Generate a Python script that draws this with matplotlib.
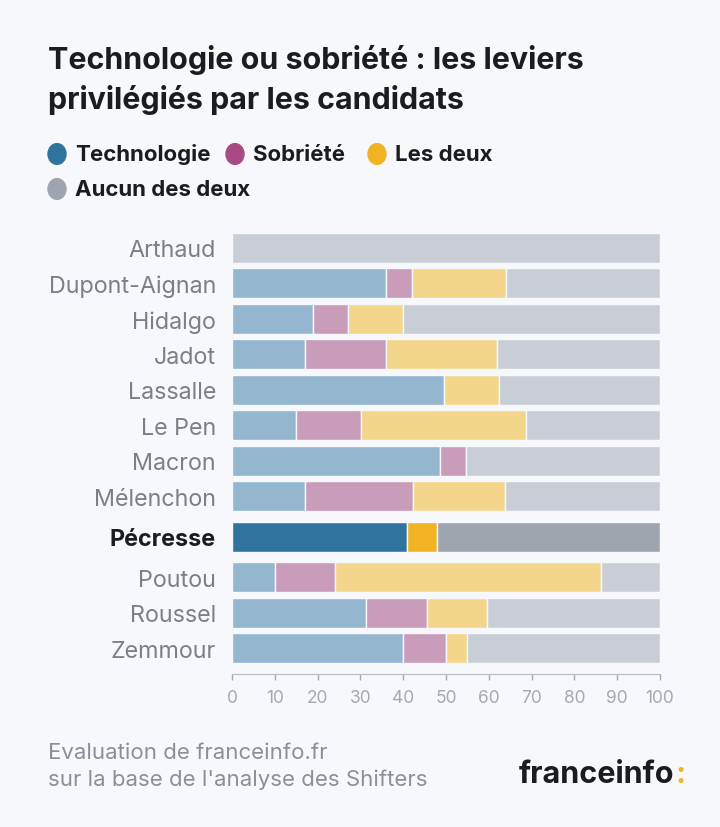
import numpy as np
import matplotlib.pyplot as plt

candidats = ["Arthaud", "Dupont-Aignan", "Hidalgo", "Jadot", "Lassalle", "Le Pen",
             "Macron", "Mélenchon", "Pécresse", "Poutou", "Roussel", "Zemmour"]
technologie = [0, 36, 19, 17, 49.5, 15, 48.5, 17, 41, 10, 31.3, 40]
sobriete = [0, 6, 8, 19, 0, 15.2, 6.1, 25.4, 0, 14, 14.2, 10]
les_deux = [0, 22, 13, 26, 13, 38.6, 0, 21.4, 7, 62.2, 14.2, 5]
series = ["Technologie", "Sobriété", "Les deux", "Aucun des deux"]
highlight = "Pécresse"

bg = '#f7f8fc'
dark = ['#31739f', '#a84b84', '#efb324', '#9ea5af']
light = ['#94b6cf', '#c99db9', '#f3d68c', '#c9ced6']

plt.rcParams['font.family'] = ['Inter', 'DejaVu Sans']

fig = plt.figure(figsize=(7.2, 8.28), dpi=100, facecolor=bg)
ax = fig.add_axes([0.3222, 0.1848, 0.5944, 0.5338], facecolor=bg)

tech = np.array(technologie, dtype=float)
sob = np.array(sobriete, dtype=float)
deux = np.array(les_deux, dtype=float)
aucun = 100 - tech - sob - deux
vals = [tech, sob, deux, aucun]

hi = candidats.index(highlight)
idx = np.arange(len(candidats))
ypos = idx + 0.14 * (idx >= hi) + 0.14 * (idx > hi)

for i, name in enumerate(candidats):
    left = 0
    cols = dark if name == highlight else light
    for k in range(4):
        w = vals[k][i]
        if w > 0:
            ax.barh(ypos[i], w, left=left, height=0.845, color=cols[k],
                    edgecolor=bg, linewidth=1)
        left += w

ax.set_xlim(0, 100)
ax.set_ylim(ypos[-1] + 0.73, -0.45)
ax.set_yticks(ypos)
ax.set_yticklabels(candidats)
for lab, name in zip(ax.get_yticklabels(), candidats):
    if name == highlight:
        lab.set_fontweight('bold')
        lab.set_color('#1b1c20')
    else:
        lab.set_color('#7b7f87')
    lab.set_fontsize(16.8)
ax.tick_params(axis='y', length=0, pad=11.5)

ax.set_xticks(np.arange(0, 101, 10))
ax.tick_params(axis='x', colors='#a5aab2', labelcolor='#a5aab2', labelsize=12.5,
               length=4, width=1, pad=7)
for s in ['top', 'right', 'left']:
    ax.spines[s].set_visible(False)
ax.spines['bottom'].set_color('#b5b9c0')

# title
fig.text(48 / 720, 1 - 60 / 828, "Technologie ou sobriété : les leviers",
         fontsize=21.9, fontweight='bold', color='#1b1c20', va='center')
fig.text(48 / 720, 1 - 100 / 828, "privilégiés par les candidats",
         fontsize=21.9, fontweight='bold', color='#1b1c20', va='center')

# legend
leg_pos = [(57, 155), (235, 155), (377, 155), (57, 190)]
for (px, py), lab, c in zip(leg_pos, series, dark):
    fig.patches.append(plt.Circle((px / 720, 1 - py / 828), 9 / 720,
                                  transform=fig.transFigure, color=c))
for (px, py), lab in zip(leg_pos, series):
    fig.text((px + 18) / 720, 1 - py / 828, lab, fontsize=16, fontweight='bold',
             color='#1b1c20', va='center')

# footer
fig.text(48 / 720, 1 - 753 / 828, "Evaluation de franceinfo.fr", fontsize=16,
         color='#8a9099', va='center')
fig.text(48 / 720, 1 - 780 / 828, "sur la base de l'analyse des Shifters", fontsize=16,
         color='#8a9099', va='center')
t = fig.text(519 / 720, 1 - 775 / 828, "franceinfo", fontsize=22, fontweight='bold',
             color='#1b1c20', va='center')
fig.canvas.draw()
bb = t.get_window_extent()
fig.text(bb.x1 / 720 + 1 / 720, 1 - 775 / 828, ":", fontsize=22, fontweight='bold',
         color='#f0b429', va='center')

plt.savefig('out.png', dpi=100, facecolor=bg)
